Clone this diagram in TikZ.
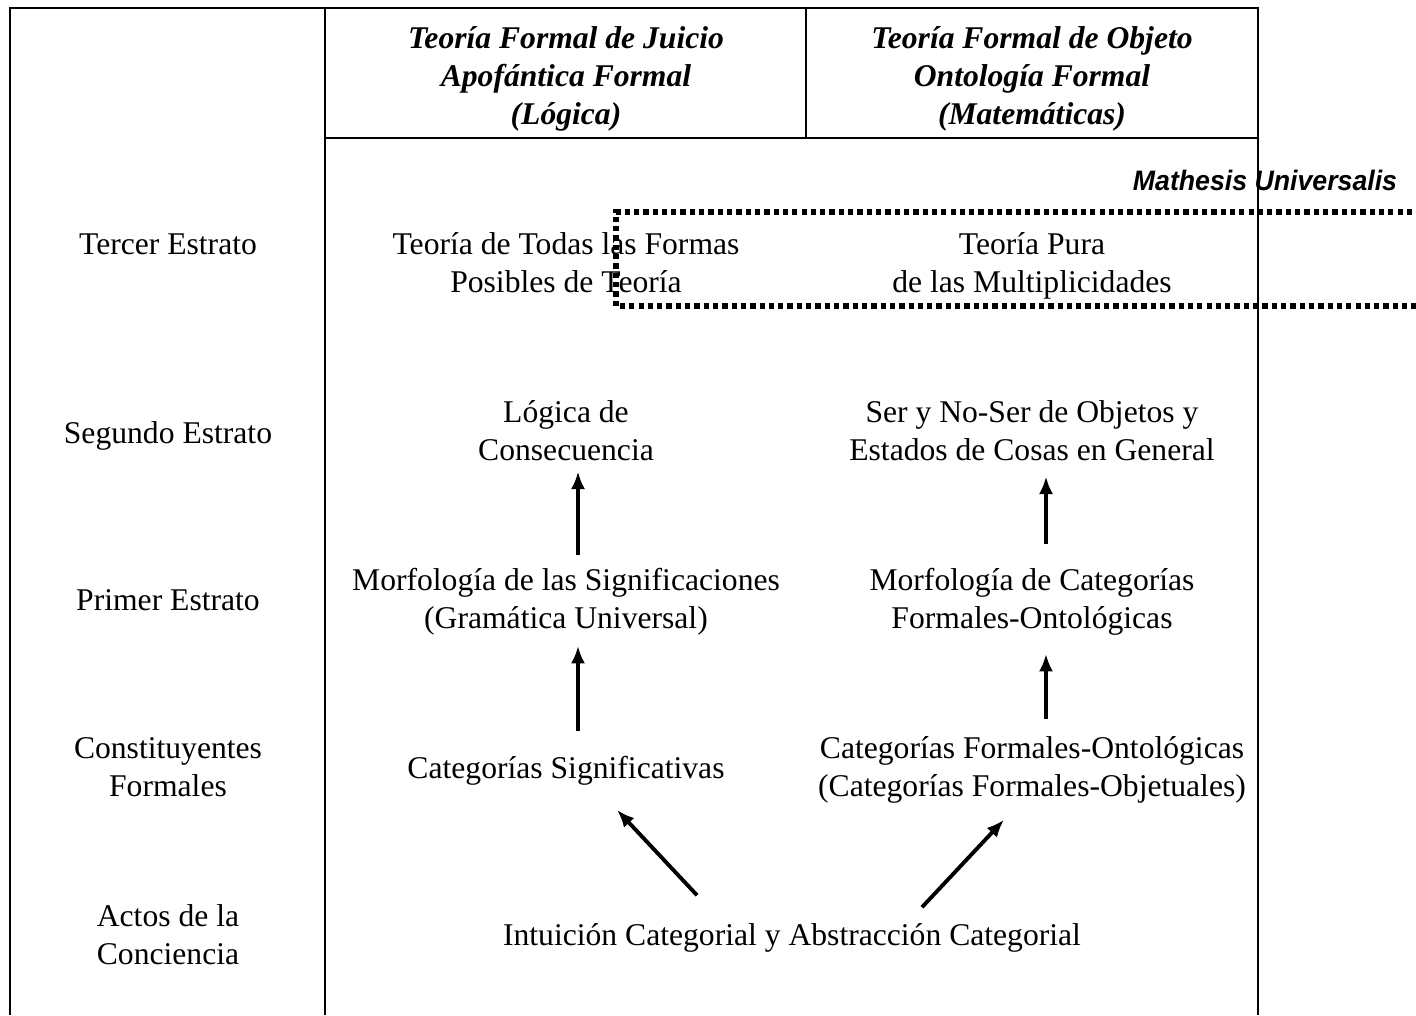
\documentclass[tikz,border=0pt]{standalone}
\usepackage{fontspec}
\setmainfont{Liberation Serif}
\newfontfamily\mathesisfont[FakeStretch=0.95]{Liberation Sans}
\usetikzlibrary{arrows.meta}

\tikzset{
  texto/.style={align=center, inner sep=0pt, font=\fontsize{18}{21.6}\selectfont},
  cabecera/.style={align=center, inner sep=0pt, font=\fontsize{18}{21.6}\selectfont\bfseries\itshape},
  flecha/.style={line width=2.2pt, -{Latex[length=10pt,width=8pt]}},
  borde/.style={line width=1.1pt},
  puntos/.style={line width=3.2pt, dash pattern=on 3pt off 2.3pt}
}

\begin{document}
\begin{tikzpicture}[x=0.02cm,y=-0.02cm]
  \useasboundingbox (0,0) rectangle (1416,1015);

  % marco de la tabla
  \draw[borde] (10,1015) -- (10,8) -- (1258,8) -- (1258,1015);
  \draw[borde] (325,8) -- (325,1015);
  \draw[borde] (806,8) -- (806,138);
  \draw[borde] (325,138) -- (1258,138);

  % cabeceras
  \node[cabecera] (juicio) at (566,79) {Teoría Formal de Juicio\\Apofántica Formal\\(Lógica)};
  \node[cabecera] (objeto) at (1032,79) {Teoría Formal de Objeto\\Ontología Formal\\(Matemáticas)};

  % estratos
  \node[texto] (tercer) at (168,244) {Tercer Estrato};
  \node[texto] (segundo) at (168,436) {Segundo Estrato};
  \node[texto] (primer) at (168,600) {Primer Estrato};
  \node[texto] (constit) at (168,767) {Constituyentes\\Formales};
  \node[texto] (actos) at (168,935) {Actos de la\\Conciencia};

  % mathesis universalis
  \draw[puntos] (1440,212) -- (616,212) -- (616,306) -- (1440,306);
  \node[inner sep=0pt, font=\fontsize{16}{19}\selectfont\mathesisfont\bfseries\itshape] (mathesis) at (1265,180) {Mathesis Universalis};

  % contenido
  \node[texto] (formas) at (566,263) {Teoría de Todas las Formas\\Posibles de Teoría};
  \node[texto] (multip) at (1032,266) {Teoría Pura\\de las Multiplicidades};
  \node[texto] (logica) at (566,431) {Lógica de\\Consecuencia};
  \node[texto] (sernoser) at (1032,431) {Ser y No-Ser de Objetos y\\Estados de Cosas en General};
  \node[texto] (morfsig) at (566,602) {Morfología de las Significaciones\\(Gramática Universal)};
  \node[texto] (morfcat) at (1032,602) {Morfología de Categorías\\Formales-Ontológicas};
  \node[texto] (catsig) at (566,771) {Categorías Significativas};
  \node[texto] (catform) at (1032,770) {Categorías Formales-Ontológicas\\(Categorías Formales-Objetuales)};
  \node[texto] (intuicion) at (792,938) {Intuición Categorial y Abstracción Categorial};

  % flechas
  \draw[flecha] ([xshift=0.24cm,yshift=0.26cm]morfsig.north) -- ([xshift=0.24cm,yshift=-0.2cm]logica.south);
  \draw[flecha] ([xshift=0.24cm,yshift=0.5cm]catsig.north) -- ([xshift=0.24cm,yshift=-0.2cm]morfsig.south);
  \draw[flecha] ([xshift=0.28cm,yshift=0.48cm]morfcat.north) -- ([xshift=0.28cm,yshift=-0.3cm]sernoser.south);
  \draw[flecha] ([xshift=0.28cm,yshift=0.34cm]catform.north) -- ([xshift=0.28cm,yshift=-0.36cm]morfcat.south);
  \draw[flecha] ([xshift=-1.9cm,yshift=0.56cm]intuicion.north) -- ([xshift=1.02cm,yshift=-0.48cm]catsig.south);
  \draw[flecha] ([xshift=2.6cm,yshift=0.32cm]intuicion.north) -- ([xshift=-0.56cm,yshift=-0.32cm]catform.south);
\end{tikzpicture}
\end{document}
